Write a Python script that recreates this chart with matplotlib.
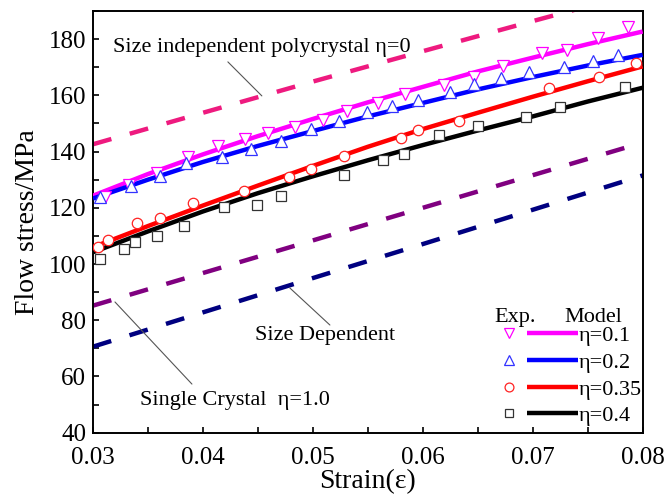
import matplotlib
matplotlib.use("Agg")
import matplotlib.pyplot as plt
from matplotlib.lines import Line2D
from matplotlib.legend_handler import HandlerTuple
from matplotlib.ticker import MultipleLocator

plt.rcParams['font.family'] = ['Liberation Serif', 'DejaVu Serif']

# ---- data ----
grid_x = [0.03, 0.035, 0.04, 0.045, 0.05, 0.055, 0.06, 0.065, 0.07, 0.075, 0.08]
model_01 = [124.3, 132.0, 139.0, 145.5, 151.6, 157.5, 163.0, 168.5, 173.4, 178.2, 182.7]
model_02 = [123.3, 130.0, 136.3, 142.0, 147.3, 152.5, 157.3, 162.1, 166.5, 170.6, 174.4]
model_035 = [106.0, 113.5, 120.8, 127.9, 134.9, 141.7, 148.0, 153.8, 159.5, 165.0, 170.3]
model_04 = [104.2, 111.6, 118.7, 125.2, 131.2, 136.9, 142.3, 147.5, 152.5, 157.8, 162.7]

dash_x = [0.03, 0.04, 0.05, 0.06, 0.07, 0.08]
poly_eta0 = [142.6, 153.8, 164.9, 175.7, 186.4, 197.0]
size_dep = [85.2, 96.8, 108.4, 120.0, 131.6, 143.2]
single_eta1 = [70.6, 82.8, 95.0, 107.1, 119.3, 131.5]

exp01_x = [0.0311, 0.0333, 0.0358, 0.0386, 0.0414, 0.0438, 0.0459, 0.0484, 0.0509, 0.0531,
           0.0559, 0.0584, 0.0619, 0.0647, 0.0673, 0.0708, 0.0731, 0.0759, 0.0787]
exp01_y = [124.0, 128.1, 132.3, 138.2, 142.1, 144.5, 146.5, 148.6, 151.2, 154.6,
           157.2, 160.5, 163.7, 166.6, 170.4, 175.2, 176.1, 180.3, 184.2]
exp02_x = [0.0306, 0.0335, 0.0361, 0.0385, 0.0417, 0.0444, 0.0471, 0.0498, 0.0524, 0.0549,
           0.0572, 0.0596, 0.0625, 0.0647, 0.0671, 0.0697, 0.0728, 0.0755, 0.0778]
exp02_y = [124.0, 127.8, 131.3, 136.1, 138.0, 140.9, 143.8, 147.9, 151.0, 153.9,
           156.3, 158.4, 161.3, 164.1, 166.2, 168.4, 170.1, 172.2, 174.2]
exp035_x = [0.0305, 0.0314, 0.0340, 0.0361, 0.0391, 0.0437, 0.0478, 0.0498, 0.0528, 0.0580,
            0.0596, 0.0633, 0.0715, 0.0760, 0.0794]
exp035_y = [106.2, 108.6, 114.6, 116.4, 121.6, 126.0, 131.1, 133.7, 138.6, 145.0,
            147.5, 150.7, 162.5, 166.6, 171.4]
exp04_x = [0.0306, 0.0328, 0.0338, 0.0358, 0.0383, 0.0419, 0.0449, 0.0471, 0.0528, 0.0564,
           0.0583, 0.0615, 0.0650, 0.0694, 0.0725, 0.0784]
exp04_y = [101.8, 105.2, 108.0, 110.0, 113.5, 120.4, 121.0, 124.2, 131.7, 137.0,
           139.1, 145.8, 149.1, 152.4, 156.0, 163.1]

legend_labels = ['η=0.1', 'η=0.2', 'η=0.35', 'η=0.4']

# ---- figure ----
fig = plt.figure(figsize=(6.68, 5.0), dpi=100)
ax = fig.add_axes([0.1392, 0.1346, 0.8229, 0.8434])

lw = 3.2
dash = [4.3, 4.3]
ax.plot(dash_x, poly_eta0, color='#EE1A7F', lw=lw, dashes=dash, zorder=2)
ax.plot(dash_x, size_dep, color='#800080', lw=lw, dashes=dash, zorder=2)
ax.plot(dash_x, single_eta1, color='#000080', lw=lw, dashes=dash, zorder=2)

cols = ['#FF00FF', '#0000FF', '#FF0000', '#000000']
mcols = ['#FF00FF', '#3333FF', '#FF2222', '#333333']
mks = ['v', '^', 'o', 's']
mss = [8, 8, 7.5, 6.5]
models = [model_01, model_02, model_035, model_04]
exps = [(exp01_x, exp01_y), (exp02_x, exp02_y), (exp035_x, exp035_y), (exp04_x, exp04_y)]

for c, m in zip(cols, models):
    ax.plot(grid_x, m, color=c, lw=lw, solid_capstyle='butt', zorder=3)
for (ex, ey), mc, mk, ms in zip(exps, mcols, mks, mss):
    ax.plot(ex, ey, ls='none', marker=mk, ms=ms, mfc='white', mec=mc, mew=0.9, zorder=4)

ax.set_xlim(0.03, 0.08)
ax.set_ylim(40, 190)
ax.xaxis.set_major_locator(MultipleLocator(0.01))
ax.xaxis.set_minor_locator(MultipleLocator(0.005))
ax.yaxis.set_major_locator(MultipleLocator(20))
ax.yaxis.set_minor_locator(MultipleLocator(10))
ax.tick_params(which='both', direction='in', length=4.5, width=1.2, labelsize=18)
ax.tick_params(axis='x', which='major', pad=10.5)
ax.tick_params(axis='y', which='major', pad=5)
for s in ax.spines.values():
    s.set_linewidth(1.4)
ax.xaxis.set_major_formatter(plt.FuncFormatter(lambda v, p: f"{v:.2f}"))

ax.set_xlabel('Strain(ε)', fontsize=20, labelpad=0)
ax.set_ylabel('Flow stress/MPa', fontsize=20, labelpad=6)

# annotations
gray = '#555555'
ax.annotate('', xy=(0.04536, 159.8), xytext=(0.04227, 171.9),
            arrowprops=dict(arrowstyle='-', color=gray, lw=0.8, shrinkA=0, shrinkB=0))
ax.text(0.03182, 176.9, 'Size independent polycrystal η=0', fontsize=16, va='center', ha='left')
ax.annotate('', xy=(0.0479, 91.5), xytext=(0.05155, 78.3),
            arrowprops=dict(arrowstyle='-', color=gray, lw=0.8, shrinkA=0, shrinkB=0))
ax.text(0.04473, 74.4, 'Size Dependent', fontsize=16, va='center', ha='left')
ax.annotate('', xy=(0.0320, 86.5), xytext=(0.0390, 57.3),
            arrowprops=dict(arrowstyle='-', color=gray, lw=0.8, shrinkA=0, shrinkB=0))
ax.text(0.03427, 51.6, 'Single Crystal  η=1.0', fontsize=16, va='center', ha='left')

# legend
handles = []
for c, mc, mk, ms in zip(cols, mcols, mks, mss):
    mh = Line2D([], [], ls='none', marker=mk, ms=ms * 0.85, mfc='white', mec=mc, mew=0.9)
    lh = Line2D([], [], color=c, lw=lw, solid_capstyle='butt')
    handles.append((mh, lh))
ax.legend(handles, legend_labels, handler_map={tuple: HandlerTuple(ndivide=None, pad=-0.34)},
          frameon=False, fontsize=16, handlelength=4.26, handletextpad=0.0,
          labelspacing=0.275, borderpad=0, loc='center left', bbox_to_anchor=(0.6904, 0.1345))
ax.text(0.06655, 81.0, 'Exp.', fontsize=16, va='center', ha='left')
ax.text(0.07291, 81.0, 'Model', fontsize=16, va='center', ha='left')

fig.savefig('out.png', dpi=100)
